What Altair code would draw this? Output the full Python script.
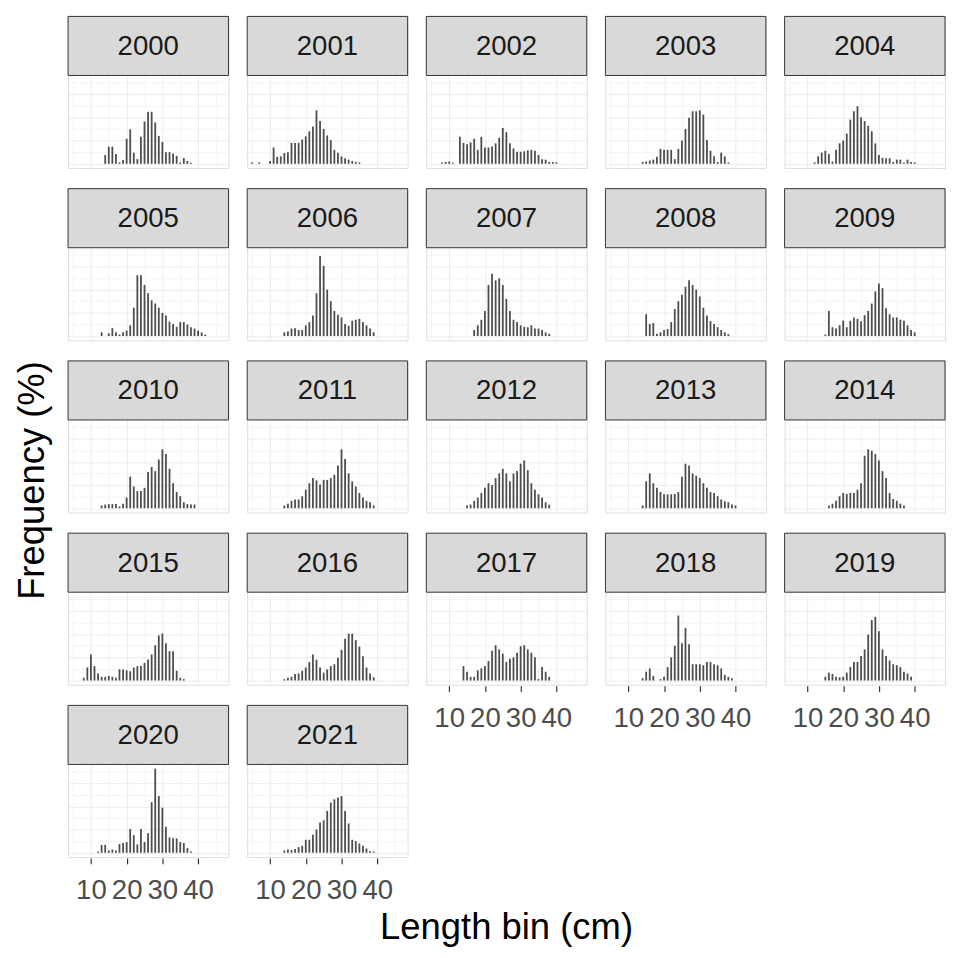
import altair as alt
import pandas as pd

years = list(range(2000, 2022))
# first length bin (cm) of each year's series
starts = [14, 5, 8, 14, 12, 13, 14, 17, 15, 15, 13, 14, 15, 14, 16, 8, 14, 14, 14, 15, 12, 14]

f2000 = [1.9, 3.7, 3.7, 2.1, 0.3, 0.8, 5.4, 7.4, 2.4, 1.0, 5.8, 9.1, 11.2, 11.2, 8.9, 6.0, 4.7, 2.5, 2.5, 2.2, 1.7, 0.3, 1.25, 0.6, 0.2]
f2001 = [0.3, 0, 0.3, 0, 0, 0.6, 3.5, 1.5, 1.6, 2.3, 2.5, 4.5, 4.5, 4.5, 5.2, 5.9, 7.0, 8.0, 11.5, 9.2, 7.5, 6.1, 5.1, 3.0, 2.4, 1.6, 1.2, 0.9, 0.6, 0.4, 0.3]
f2002 = [0.3, 0.4, 0.5, 0.2, 0, 5.8, 4.5, 4.2, 4.6, 5.4, 3.0, 5.8, 3.5, 3.5, 3.7, 4.4, 5.6, 7.7, 6.8, 4.4, 3.3, 2.6, 2.6, 2.7, 2.9, 3.0, 2.8, 1.9, 1.0, 0.9, 0.4, 0.4, 0.3]
f2003 = [0.4, 0.5, 0.7, 0.9, 1.5, 3.2, 3.0, 3.0, 3.0, 1.0, 3.2, 5.0, 7.5, 9.9, 11.3, 11.3, 11.5, 10.6, 5.1, 2.8, 1.6, 0.4, 2.4, 1.6, 0.3]
f2004 = [0.3, 1.6, 2.4, 2.8, 2.1, 0.5, 3.0, 4.4, 5.0, 6.5, 9.5, 11.3, 12.4, 10.0, 9.2, 8.2, 7.0, 4.4, 1.9, 1.3, 1.2, 1.2, 0.4, 0.9, 0.9, 0.3, 0.9, 0.4, 0.3]
f2005 = [0.8, 0, 0.6, 1.7, 0.8, 0.3, 0.8, 1.2, 2.3, 6.1, 13.1, 13.1, 11.0, 9.2, 7.7, 7.0, 6.1, 5.0, 4.4, 3.1, 2.6, 2.0, 3.0, 3.0, 2.5, 1.9, 1.6, 1.2, 0.8, 0.3]
f2006 = [0.8, 1.0, 1.6, 1.7, 1.3, 1.3, 2.3, 3.0, 4.4, 9.2, 17.2, 15.1, 10.0, 7.5, 5.4, 4.6, 4.0, 2.6, 2.2, 3.3, 3.5, 3.7, 3.0, 2.3, 1.6, 0.8]
f2007 = [1.3, 2.3, 3.5, 5.4, 11.0, 13.4, 12.0, 12.4, 11.0, 8.0, 5.4, 3.5, 3.0, 2.3, 2.0, 1.9, 2.3, 1.6, 1.6, 1.3, 0.8, 0.5]
f2008 = [4.7, 2.6, 2.8, 0.5, 0.8, 1.3, 1.5, 3.0, 5.8, 7.5, 8.9, 10.6, 12.0, 11.0, 10.0, 8.5, 6.1, 4.4, 3.2, 2.6, 1.9, 1.3, 0.8, 0.4]
f2009 = [0.3, 5.4, 1.9, 1.6, 2.3, 3.3, 1.9, 3.3, 4.0, 3.7, 3.2, 4.5, 5.4, 7.0, 9.6, 11.3, 10.3, 6.0, 4.7, 4.0, 4.0, 3.5, 3.3, 2.3, 1.3, 0.8]
f2010 = [0.6, 0.8, 0.9, 0.9, 0.9, 0.4, 1.0, 2.3, 6.8, 4.7, 3.7, 3.7, 4.4, 7.8, 8.9, 8.0, 10.5, 12.7, 11.7, 8.5, 5.4, 3.5, 2.6, 1.3, 0.9, 0.8, 0.8]
f2011 = [0.6, 1.0, 1.6, 1.9, 1.9, 2.6, 4.0, 5.4, 6.5, 6.0, 5.1, 6.1, 6.1, 6.5, 7.2, 9.2, 12.7, 10.6, 7.5, 5.8, 4.7, 3.3, 2.3, 1.6, 1.3, 0.6]
f2012 = [0.6, 0.8, 1.6, 2.3, 3.3, 4.4, 5.4, 5.0, 6.5, 7.5, 8.5, 7.5, 5.8, 7.5, 8.0, 9.6, 10.3, 8.2, 5.4, 4.0, 3.0, 2.3, 1.3, 0.8]
f2013 = [0.6, 5.8, 7.5, 5.4, 4.4, 3.5, 3.0, 3.0, 3.0, 3.1, 3.5, 6.8, 9.6, 9.2, 7.5, 7.0, 6.5, 5.4, 4.4, 3.5, 3.3, 2.6, 1.9, 1.5, 1.3, 0.8, 0.6]
f2014 = [0.6, 1.0, 1.6, 2.6, 3.3, 3.1, 3.3, 3.3, 4.0, 5.4, 11.3, 12.7, 12.4, 11.7, 10.3, 8.0, 6.5, 3.3, 2.0, 1.6, 1.0, 0.6]
f2015 = [0.6, 2.8, 5.6, 3.1, 1.5, 0.8, 0.8, 1.0, 0.8, 0.6, 2.4, 2.4, 2.2, 2.0, 2.8, 3.1, 3.1, 3.8, 4.5, 5.6, 7.6, 9.7, 10.1, 8.0, 6.3, 6.3, 2.1, 0.6, 0.3]
f2016 = [0.3, 0.6, 0.8, 1.4, 1.5, 2.1, 2.8, 4.0, 5.6, 4.5, 2.8, 1.7, 2.4, 3.1, 3.5, 4.9, 6.6, 9.0, 10.1, 10.1, 8.7, 7.3, 5.2, 2.8, 1.5, 0.7]
f2017 = [3.1, 1.9, 0.8, 0.8, 2.2, 2.6, 3.1, 4.2, 6.4, 7.6, 6.7, 5.8, 4.0, 4.7, 5.0, 6.0, 7.4, 7.6, 6.7, 6.0, 5.0, 0.3, 2.9, 1.9, 0.8]
f2018 = [0.5, 1.9, 2.6, 1.0, 0, 0.3, 0.8, 2.9, 5.0, 7.5, 14.0, 8.0, 11.3, 7.8, 3.5, 3.5, 3.5, 3.3, 4.0, 4.0, 3.5, 3.3, 2.6, 1.2, 0.8, 0.5]
f2019 = [0.8, 1.7, 1.4, 0.8, 0.7, 0.8, 1.7, 2.9, 4.0, 4.0, 5.3, 6.7, 9.9, 13.0, 13.7, 10.6, 6.7, 5.3, 4.3, 3.5, 3.3, 2.9, 1.9, 1.5, 0.8]
f2020 = [0.3, 1.7, 1.7, 0.5, 0.7, 0.5, 1.9, 2.1, 2.3, 5.1, 3.8, 1.8, 5.1, 2.3, 4.2, 10.9, 18.1, 12.2, 9.7, 5.6, 3.3, 3.1, 3.1, 2.3, 2.1, 1.0, 0.3]
f2021 = [0.5, 0.7, 0.6, 0.8, 1.2, 1.5, 2.8, 2.8, 3.9, 5.0, 6.5, 7.0, 9.0, 10.8, 11.5, 11.9, 12.2, 9.0, 6.3, 2.8, 2.5, 2.0, 1.5, 0.9, 0.4, 0.3]

freqs = [f2000, f2001, f2002, f2003, f2004, f2005, f2006, f2007, f2008, f2009, f2010,
         f2011, f2012, f2013, f2014, f2015, f2016, f2017, f2018, f2019, f2020, f2021]

rows = []
for yr, s, vals in zip(years, starts, freqs):
    for i, v in enumerate(vals):
        if v > 0:
            rows.append({"year": str(yr), "len": s + i, "pct": v})
df = pd.DataFrame(rows)

PLOT_W = 163
PLOT_H = 94
STRIP_H = 60
CELL_H = PLOT_H + STRIP_H
GAP_X = 17
GAP_Y = 19
FONT = "Liberation Sans, Arial, sans-serif"

M = float(df["pct"].max())
lo = -0.05 * M
hi = 1.05 * M
top = hi + (hi - lo) * STRIP_H / PLOT_H

x_scale = alt.Scale(domain=[3.6, 48.5], nice=False, zero=False)
y_scale = alt.Scale(domain=[lo, top], nice=False, zero=False)

x_axis = alt.Axis(
    values=[5, 10, 15, 20, 25, 30, 35, 40, 45],
    labelExpr="(datum.value % 10 == 0 && datum.value >= 10 && datum.value <= 40) ? datum.label : ''",
    title=None, domain=False, labelFont=FONT, labelFontSize=28, labelColor="#4d4d4d",
    labelPadding=13, tickSize=6, tickColor="#333333", tickWidth=1.2,
    tickOpacity={"condition": {"test": "datum.value % 10 != 0 || datum.value < 10 || datum.value > 40", "value": 0}, "value": 1},
    grid=True,
    gridColor={"condition": {"test": "datum.value % 10 != 0", "value": "#f4f4f4"}, "value": "#ececec"},
    labelFlush=False, labelOverlap=False,
)
y_axis = alt.Axis(
    values=[0, 2.5, 5, 7.5, 10, 12.5, 15, 17.5],
    labels=False, ticks=False, domain=False, title=None, grid=True,
    gridColor={"condition": {"test": "datum.value % 5 != 0", "value": "#f4f4f4"}, "value": "#ececec"},
)


def make_panels(sel_years, ncols):
    sub = df[df["year"].isin(sel_years)]
    base = alt.Chart(sub)
    bars = base.transform_calculate(
        x0="datum.len - 0.25", x1="datum.len + 0.25"
    ).mark_rect(color="#4d4d4d").encode(
        x=alt.X("x0:Q", scale=x_scale, axis=x_axis),
        x2="x1:Q",
        y=alt.Y("pct:Q", scale=y_scale, axis=y_axis),
        y2=alt.datum(0),
    )
    strip = base.transform_aggregate(n="count()", groupby=["year"]).mark_rect(
        fill="#d9d9d9", stroke="#333333", strokeWidth=1
    ).encode(
        x=alt.value(0), x2=alt.value(PLOT_W), y=alt.value(0), y2=alt.value(STRIP_H)
    )
    label = base.transform_aggregate(n="count()", groupby=["year"]).mark_text(
        font=FONT, fontSize=28, color="#1a1a1a", baseline="middle", align="center"
    ).encode(
        x=alt.value(PLOT_W / 2), y=alt.value(STRIP_H / 2 + 1), text="year:N"
    )
    return alt.layer(bars, strip, label).properties(
        width=PLOT_W, height=CELL_H
    ).facet(
        facet=alt.Facet("year:N", title=None, sort="ascending",
                        header=alt.Header(labels=False, labelFontSize=0, labelPadding=0, labelExpr="''")),
        columns=ncols,
        spacing={"row": GAP_Y, "column": GAP_X},
    )


left_years = [str(y) for y in years if (y - 2000) % 5 < 2]
right_years = [str(y) for y in years if (y - 2000) % 5 >= 2]

grid_chart = alt.hconcat(
    make_panels(left_years, 2), make_panels(right_years, 3), spacing=GAP_X
).properties(
    title=alt.TitleParams("Length bin (cm)", orient="bottom", anchor="middle",
                          font=FONT, fontSize=37, fontWeight="normal", color="#000000", offset=6)
)

chart = alt.hconcat(grid_chart).properties(
    title=alt.TitleParams("Frequency (%)", orient="left", anchor="middle",
                          font=FONT, fontSize=37, fontWeight="normal", color="#000000", offset=15)
).configure_view(
    stroke="#333333", strokeWidth=1
).configure_header(
    labels=False, labelFontSize=0, labelPadding=0
).configure(
    padding={"left": 6, "top": 0, "right": 0, "bottom": 0}
)

chart.save("out.html", embed_options={"renderer": "svg", "actions": False})
